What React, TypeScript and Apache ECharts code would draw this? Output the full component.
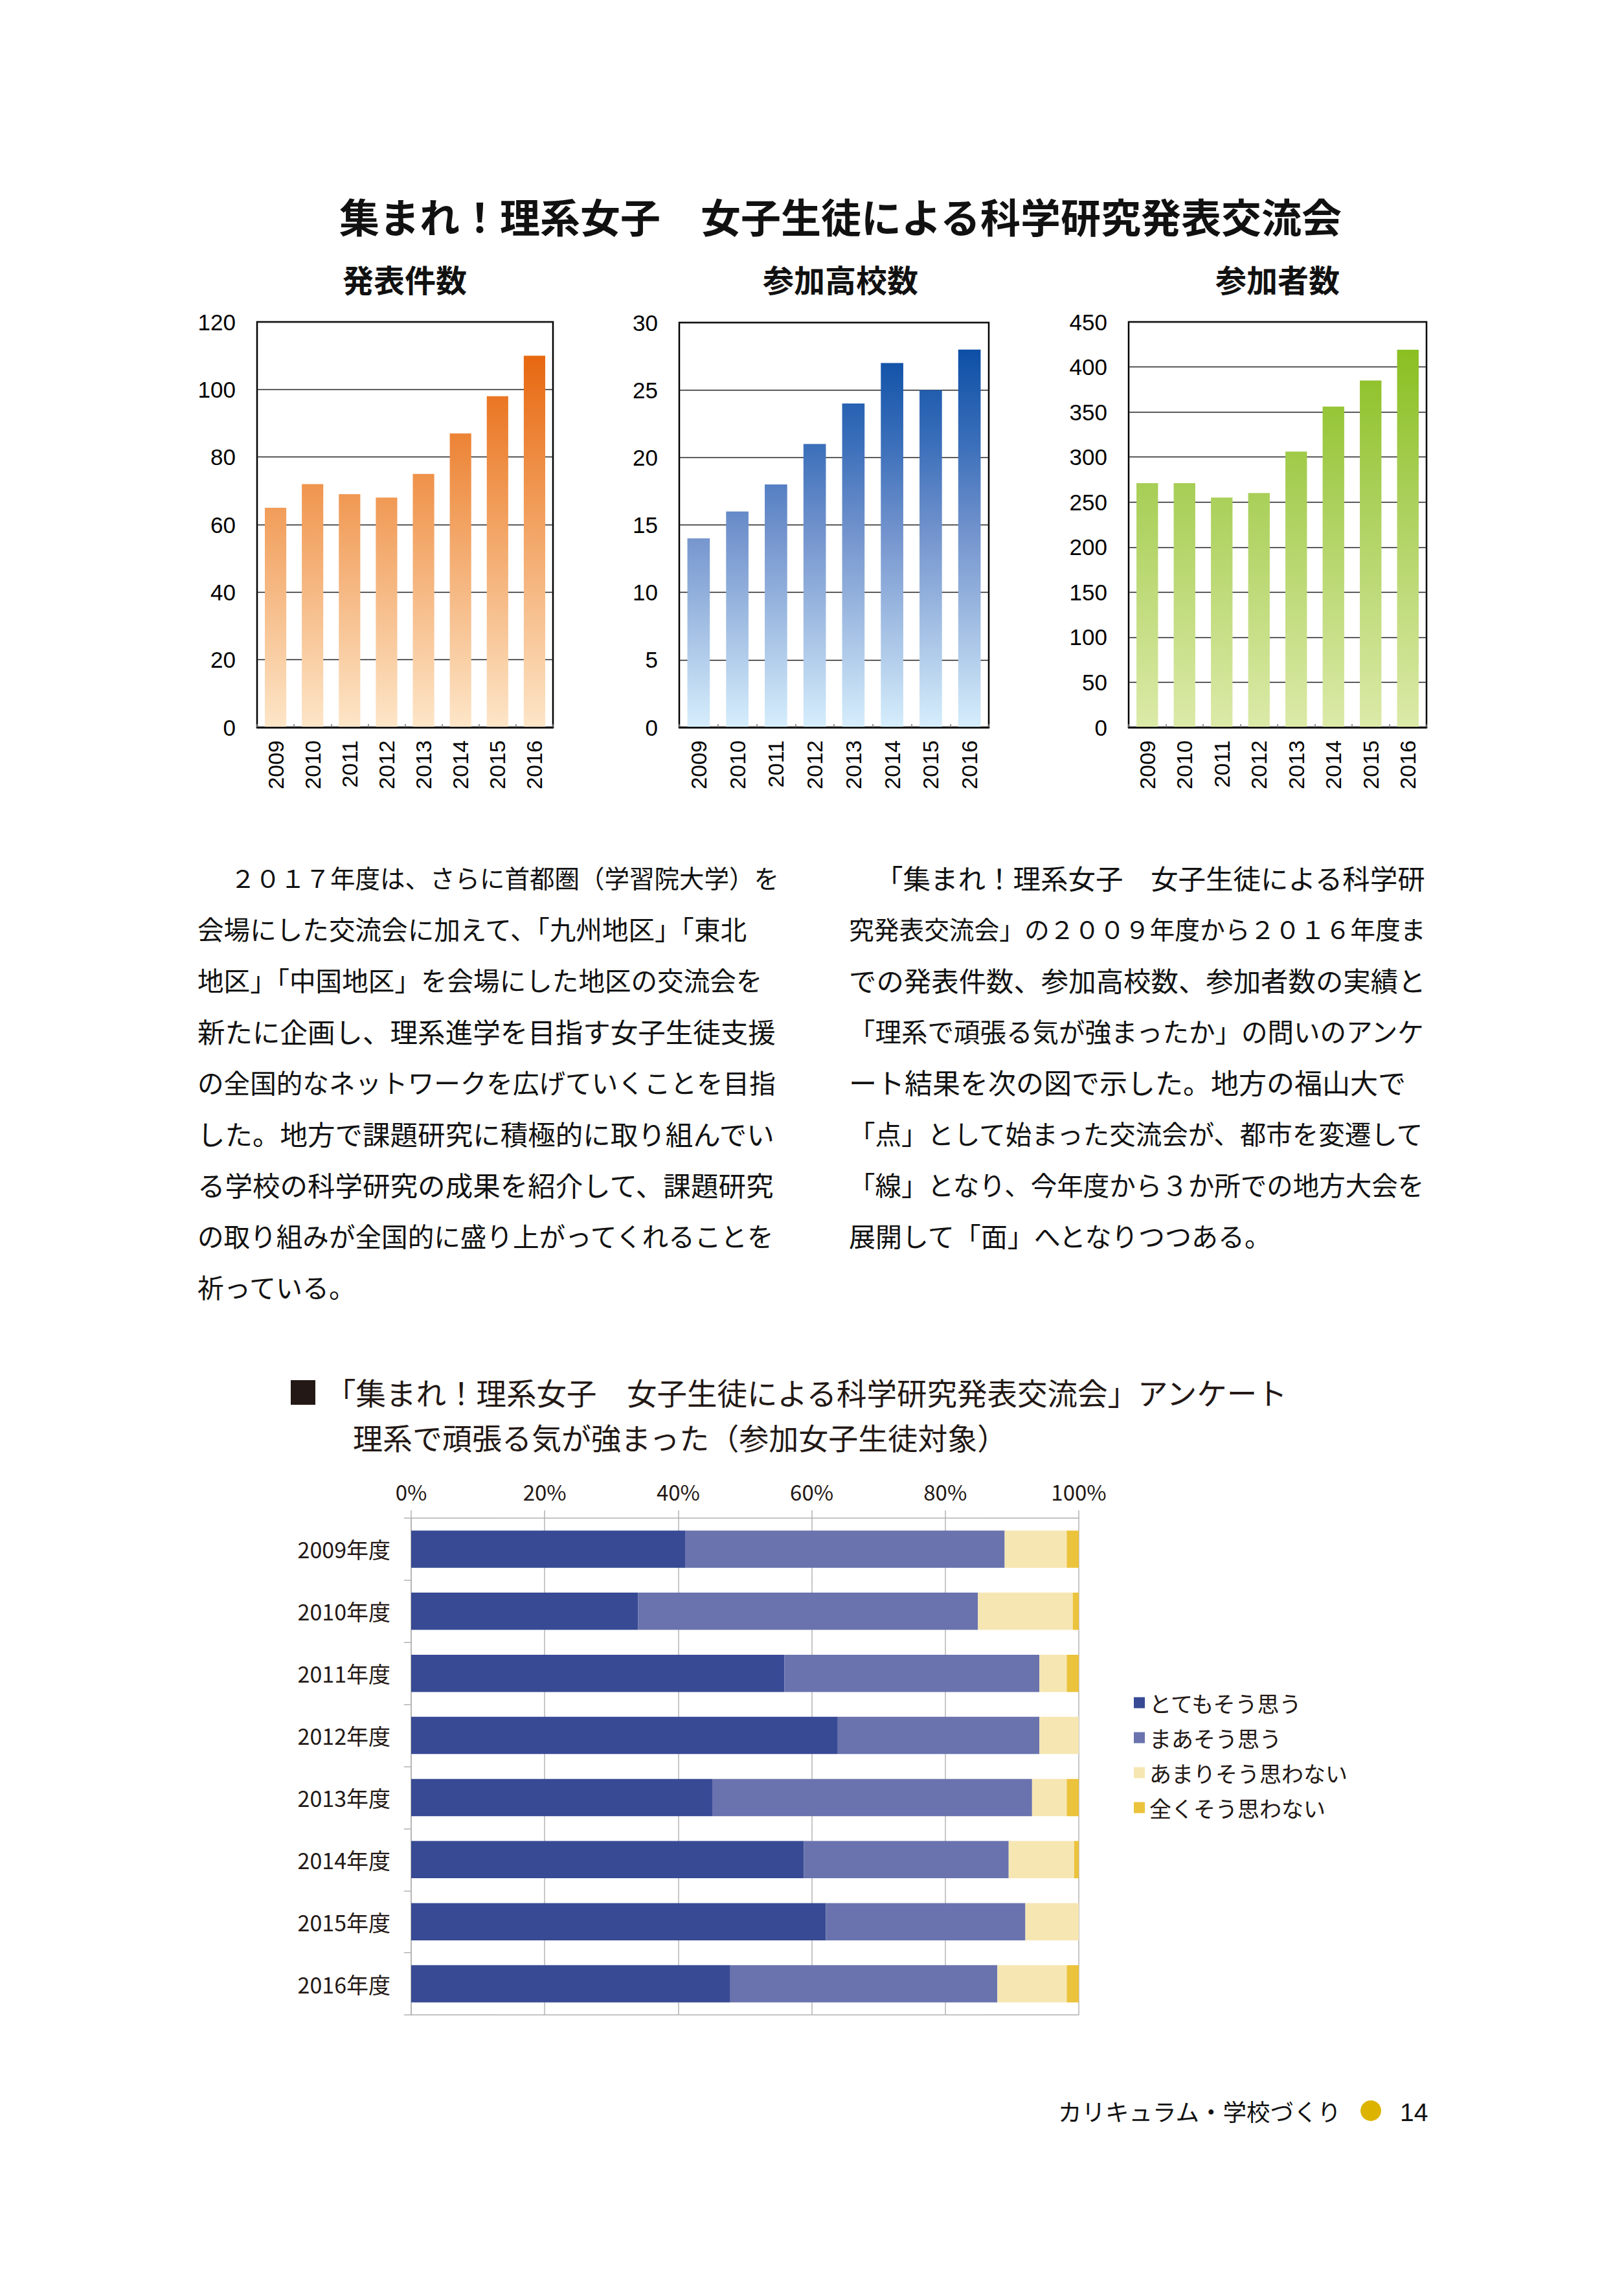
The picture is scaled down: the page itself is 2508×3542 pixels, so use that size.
import React, { useEffect, useRef } from "react";
import * as echarts from "echarts";

// ---------- data ----------
const years = ["2009", "2010", "2011", "2012", "2013", "2014", "2015", "2016"];
const presentations = [65, 72, 69, 68, 75, 87, 98, 110];
const schools = [14, 16, 18, 21, 24, 27, 25, 28];
const participants = [271, 271, 255, 260, 306, 356, 385, 419];

const surveyYears = ["2009年度", "2010年度", "2011年度", "2012年度", "2013年度", "2014年度", "2015年度", "2016年度"];
const surveyNames = ["とてもそう思う", "まあそう思う", "あまりそう思わない", "全くそう思わない"];
const veryMuch = [41.1, 34.0, 55.9, 63.9, 45.1, 58.8, 62.1, 47.8];
const somewhat = [47.8, 50.9, 38.2, 30.2, 47.9, 30.7, 29.9, 40.0];
const notMuch = [9.3, 14.2, 4.1, 5.9, 5.2, 9.8, 8.0, 10.4];
const notAtAll = [1.8, 0.9, 1.8, 0.0, 1.8, 0.7, 0.0, 1.8];

const mainTitle = "集まれ！理系女子　女子生徒による科学研究発表交流会";
const chartTitles = ["発表件数", "参加高校数", "参加者数"];
const surveyTitle1 = "「集まれ！理系女子　女子生徒による科学研究発表交流会」アンケート";
const surveyTitle2 = "理系で頑張る気が強まった（参加女子生徒対象）";
const footerText = "カリキュラム・学校づくり";
const pageNumber = "14";

const leftLines = [
  "２０１７年度は、さらに首都圏（学習院大学）を",
  "会場にした交流会に加えて、「九州地区」「東北",
  "地区」「中国地区」を会場にした地区の交流会を",
  "新たに企画し、理系進学を目指す女子生徒支援",
  "の全国的なネットワークを広げていくことを目指",
  "した。地方で課題研究に積極的に取り組んでい",
  "る学校の科学研究の成果を紹介して、課題研究",
  "の取り組みが全国的に盛り上がってくれることを",
  "祈っている。",
];
const rightLines = [
  "「集まれ！理系女子　女子生徒による科学研",
  "究発表交流会」の２００９年度から２０１６年度ま",
  "での発表件数、参加高校数、参加者数の実績と",
  "「理系で頑張る気が強まったか」の問いのアンケ",
  "ート結果を次の図で示した。地方の福山大で",
  "「点」として始まった交流会が、都市を変遷して",
  "「線」となり、今年度から３か所での地方大会を",
  "展開して「面」へとなりつつある。",
];

// ---------- styles ----------
const JP = '"Noto Sans CJK JP", "Noto Sans", sans-serif';
const NUM = '"Liberation Sans", Arial, sans-serif';
const INK = "#231815";

const orangeStops = [
  [0, "#E55C00"],
  [0.46, "#F19D5A"],
  [1, "#FDE6C8"],
];
const blueStops = [
  [0, "#0046A0"],
  [0.3, "#3B6FBA"],
  [0.53, "#7595CE"],
  [1, "#D6EEFC"],
];
const greenStops = [
  [0, "#84BC16"],
  [0.4, "#A7CE55"],
  [1, "#DCEAA8"],
];

const surveyColors = ["#384A94", "#6A73AE", "#F6E6B2", "#EBC33C"];

const topGrids = [
  { left: 397, top: 497, width: 457, height: 626 },
  { left: 1049, top: 498, width: 478, height: 625 },
  { left: 1743, top: 497, width: 460, height: 626 },
];
const topMax = [120, 30, 450];
const topInterval = [20, 5, 50];
const topData = [presentations, schools, participants];
const topStops = [orangeStops, blueStops, greenStops];
const titleCenters = [625, 1298, 1973];

function gradient(top: number, bottom: number, stops: any[]) {
  return {
    type: "linear",
    x: 0,
    y: top,
    x2: 0,
    y2: bottom,
    global: true,
    colorStops: stops.map(([o, c]) => ({ offset: o, color: c })),
  };
}

function bodyLines(lines: string[], x0: number, x1: number, indent: number, y0: number, dy: number) {
  return lines.map((t, i) => {
    const start = i === 0 ? indent : x0;
    const n = [...t].length;
    const last = i === lines.length - 1;
    let fs = last ? 41 : (x1 - start) / n;
    fs = Math.max(38.5, Math.min(43, fs));
    return {
      type: "text",
      x: start,
      y: y0 + i * dy,
      style: {
        text: t,
        fill: "#111",
        fontSize: fs,
        fontFamily: JP,
        textAlign: "left",
        textVerticalAlign: "middle",
      },
    };
  });
}

export default function App() {
  const ref = useRef<HTMLDivElement>(null);

  useEffect(() => {
    if (!ref.current) return;
    const chart = echarts.init(ref.current, null, { renderer: "svg" });

    const grids: any[] = topGrids.map((g) => ({
      ...g,
      show: true,
      borderColor: "#000",
      borderWidth: 2.5,
      backgroundColor: "transparent",
      containLabel: false,
    }));
    grids.push({ left: 635, top: 2344, width: 1031, height: 767, containLabel: false });

    const xAxes: any[] = topGrids.map((_, i) => ({
      type: "category",
      gridIndex: i,
      data: years,
      z: 5,
      axisLine: { show: true, lineStyle: { color: "#000", width: 2.5 } },
      axisTick: { show: true, inside: true, length: 5, interval: 0, lineStyle: { color: "#777", width: 1.5 } },
      axisLabel: { rotate: 90, interval: 0, margin: 20, fontSize: 34, color: "#000", fontFamily: NUM },
      splitLine: { show: false },
    }));
    xAxes.push({
      type: "value",
      gridIndex: 3,
      position: "top",
      min: 0,
      max: 100,
      interval: 20,
      axisLine: { show: true, lineStyle: { color: "#B0B0B0", width: 1.5 } },
      axisTick: { show: true, length: 12, lineStyle: { color: "#B0B0B0", width: 1.5 } },
      axisLabel: { formatter: "{value}%", fontSize: 33, color: INK, fontFamily: JP, margin: 25 },
      splitLine: { show: true, lineStyle: { color: "#B4B4B4", width: 1.5 } },
    });
    xAxes.push({
      type: "value",
      gridIndex: 3,
      position: "bottom",
      min: 0,
      max: 100,
      interval: 20,
      axisLine: { show: true, lineStyle: { color: "#B0B0B0", width: 1.5 } },
      axisTick: { show: false },
      axisLabel: { show: false },
      splitLine: { show: false },
    });

    const yAxes: any[] = topGrids.map((_, i) => ({
      type: "value",
      gridIndex: i,
      min: 0,
      max: topMax[i],
      interval: topInterval[i],
      axisLine: { show: false },
      axisTick: { show: false },
      axisLabel: { fontSize: 35, color: "#000", fontFamily: NUM, margin: 33 },
      splitLine: { show: true, lineStyle: { color: "#222", width: 1.3 } },
    }));
    yAxes.push({
      type: "category",
      gridIndex: 3,
      data: surveyYears,
      inverse: true,
      axisLine: { show: true, lineStyle: { color: "#B0B0B0", width: 1.5 } },
      axisTick: { show: true, length: 11, lineStyle: { color: "#B0B0B0", width: 1.5 } },
      axisLabel: { fontSize: 34, color: INK, fontFamily: JP, margin: 32 },
      splitLine: { show: false },
    });

    const series: any[] = topGrids.map((g, i) => ({
      type: "bar",
      xAxisIndex: i,
      yAxisIndex: i,
      data: topData[i],
      barCategoryGap: "42%",
      itemStyle: { color: gradient(g.top, g.top + g.height, topStops[i]) },
    }));
    [veryMuch, somewhat, notMuch, notAtAll].forEach((d, k) => {
      series.push({
        type: "bar",
        name: surveyNames[k],
        xAxisIndex: 3,
        yAxisIndex: 3,
        stack: "survey",
        data: d,
        barCategoryGap: "40%",
        itemStyle: { color: surveyColors[k] },
      });
    });

    const graphics: any[] = [
      {
        type: "text",
        x: 1298,
        y: 333,
        style: {
          text: mainTitle,
          fill: "#111",
          fontSize: 62,
          fontWeight: "bold",
          fontFamily: JP,
          textAlign: "center",
          textVerticalAlign: "middle",
        },
      },
      ...chartTitles.map((t, i) => ({
        type: "text",
        x: titleCenters[i],
        y: 430,
        style: {
          text: t,
          fill: "#111",
          fontSize: 48,
          fontWeight: "bold",
          fontFamily: JP,
          textAlign: "center",
          textVerticalAlign: "middle",
        },
      })),
      ...bodyLines(leftLines, 305, 1198, 356, 1354, 79),
      ...bodyLines(rightLines, 1311, 2202, 1352, 1354, 79),
      { type: "rect", shape: { x: 449, y: 2131, width: 38, height: 38 }, style: { fill: INK } },
      {
        type: "text",
        x: 503,
        y: 2148,
        style: { text: surveyTitle1, fill: INK, fontSize: 46.5, fontFamily: JP, textAlign: "left", textVerticalAlign: "middle" },
      },
      {
        type: "text",
        x: 545,
        y: 2218,
        style: { text: surveyTitle2, fill: INK, fontSize: 46, fontFamily: JP, textAlign: "left", textVerticalAlign: "middle" },
      },
      {
        type: "text",
        x: 1634,
        y: 3259,
        style: { text: footerText, fill: "#111", fontSize: 36.5, fontFamily: JP, textAlign: "left", textVerticalAlign: "middle" },
      },
      { type: "circle", shape: { cx: 2117, cy: 3259, r: 16 }, style: { fill: "#DCB400" } },
      {
        type: "text",
        x: 2162,
        y: 3261,
        style: { text: pageNumber, fill: "#111", fontSize: 39, fontFamily: NUM, textAlign: "left", textVerticalAlign: "middle" },
      },
    ];

    chart.setOption({
      animation: false,
      backgroundColor: "#fff",
      grid: grids,
      xAxis: xAxes,
      yAxis: yAxes,
      series,
      legend: {
        data: surveyNames,
        orient: "vertical",
        left: 1746,
        top: 2606,
        itemWidth: 17,
        itemHeight: 17,
        itemGap: 18,
        icon: "rect",
        textStyle: { fontSize: 34, color: INK, fontFamily: JP, lineHeight: 36, padding: [0, 0, 0, 2] },
      },
      graphic: graphics,
    });

    return () => chart.dispose();
  }, []);

  return (
    <div
      ref={ref}
      style={{ position: "absolute", left: 0, top: 0, width: 2508, height: 3542 }}
    />
  );
}
